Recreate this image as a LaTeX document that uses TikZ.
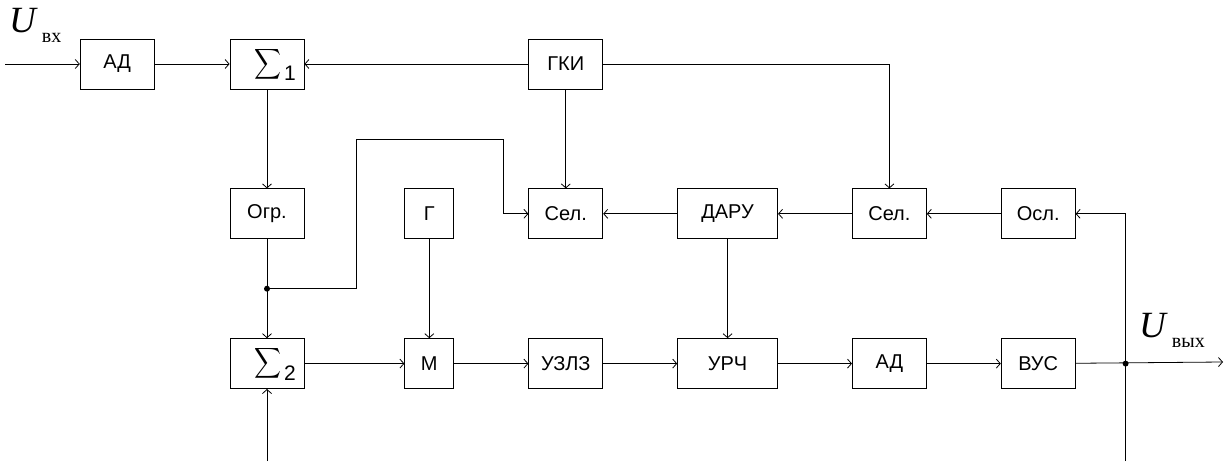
\documentclass[tikz,border=0pt]{standalone}
\usepackage{fontspec}
\setmainfont{Liberation Sans}
\newfontfamily\lblserif{Liberation Serif}
\usetikzlibrary{arrows.meta,positioning}

\newcommand{\sumsign}[1]{\hspace*{16pt}\raisebox{\depth}{\resizebox*{27pt}{34pt}{$\displaystyle\sum$}}\hspace{3pt}{\fontsize{21}{21}\selectfont #1}}
\newcommand{\ulabel}[1]{{\lblserif\itshape\fontsize{37}{37}\selectfont U}\hspace{6pt}\raisebox{-10pt}{\lblserif\fontsize{20}{20}\selectfont #1}}

\begin{document}
\begin{tikzpicture}[
        x=1pt, y=1pt,
        font=\fontsize{20}{22}\selectfont,
        box/.style={draw, line width=0.8pt, minimum width=74pt, minimum height=50pt, inner sep=2pt},
        narrow/.style={box, minimum width=49pt},
        wide/.style={box, minimum width=100pt},
        arr/.style={-{Straight Barb[length=4pt,width=9pt]}, line width=0.8pt},
        dot/.style={circle, fill, inner sep=0pt, minimum size=6pt},
        node distance=99pt and 74pt
    ]
        \useasboundingbox (0,0) rectangle (1225,461);
        \node[box] (sum1) at (267,397) {\sumsign{1}};
        \node[box, left=75pt of sum1] (ad1) {АД};
        \node[box, right=224pt of sum1] (gki) {ГКИ};
        \node[box, below=of sum1] (ogr) {Огр.};
        \node[box, below=of ogr] (sum2) {\sumsign{2}};
        \node[narrow, right=100pt of ogr] (gen) {Г};
        \node[box, below=of gki] (sel1) {Сел.};
        \node[wide, right=of sel1] (daru) {ДАРУ};
        \node[box, right=of daru] (sel2) {Сел.};
        \node[box, right=of sel2] (osl) {Осл.};
        \node[narrow, below=of gen] (mod) {М};
        \node[box, below=of sel1] (uzlz) {УЗЛЗ};
        \node[wide, below=of daru] (urch) {УРЧ};
        \node[box, below=of sel2] (ad2) {АД};
        \node[box, below=of osl] (vus) {ВУС};
        \node[anchor=base west, inner sep=0pt] (uin) at (9,428) {\ulabel{вх}};
        \node[anchor=base west, inner sep=0pt] (uout) at (1139,124) {\ulabel{вых}};
        \coordinate (inpt) at (5,397);
        \coordinate (outpt) at (1223,99);
        \coordinate (bot) at (0,0);
        \coordinate (j1) at ([yshift=-49.5pt]ogr.south);
        \coordinate (j2) at ([xshift=50pt]vus.east);
        \draw[arr] (inpt) -- (ad1);
        \draw[arr] (ad1) -- (sum1);
        \draw[arr] (gki) -- (sum1);
        \draw[arr] (gki.east) -| (sel2.north);
        \draw[arr] (gki) -- (sel1);
        \draw[arr] (sum1) -- (ogr);
        \draw[arr] (ogr) -- (sum2);
        \draw[arr] (j1) -- ++(89,0) -- ++(0,149) -| ([xshift=-25pt]sel1.west) -- (sel1.west);
        \draw[arr] (daru) -- (sel1);
        \draw[arr] (sel2) -- (daru);
        \draw[arr] (osl) -- (sel2);
        \draw[arr] (gen) -- (mod);
        \draw[arr] (daru) -- (urch);
        \draw[arr] (sum2) -- (mod);
        \draw[arr] (mod) -- (uzlz);
        \draw[arr] (uzlz) -- (urch);
        \draw[arr] (urch) -- (ad2);
        \draw[arr] (ad2) -- (vus);
        \draw[arr] (vus) -- (outpt);
        \draw[arr] (bot -| j2) |- (osl.east);
        \draw[arr] (bot -| sum2.south) -- (sum2.south);
        \node[dot] (d1) at (j1) {};
        \node[dot] (d2) at (j2) {};
    \end{tikzpicture}
\end{document}
